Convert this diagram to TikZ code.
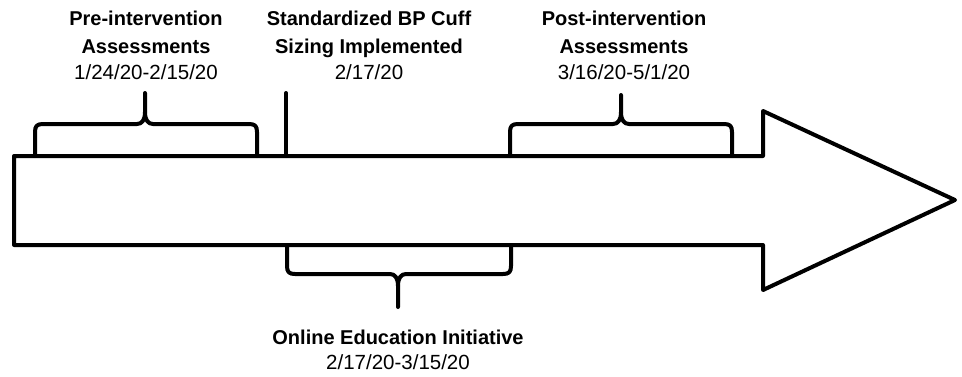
\documentclass[tikz,border=0pt]{standalone}
\usepackage{fontspec}
\setmainfont{Liberation Sans}
\begin{document}
\begin{tikzpicture}[x=1pt,y=-1pt,
  shape line/.style={line width=4pt, line join=round, line cap=round},
  hd/.style={font=\fontsize{20}{26}\selectfont\bfseries, inner sep=0pt, anchor=base},
  dt/.style={font=\fontsize{20.5}{26}\selectfont, inner sep=0pt, anchor=base}]
\useasboundingbox (0,0) rectangle (962,376);
% main arrow
\draw[shape line] (14,156) -- (763,156) -- (763,111) -- (955,200) -- (763,290) -- (763,245) -- (14,245) -- cycle;
% pre-intervention bracket
\draw[shape line] (35,156) -- (35,132) .. controls (35,126) and (37,124) .. (43,124) -- (137,124)
  .. controls (142,124) and (145,120) .. (145,112) -- (145,93);
\draw[shape line] (257,156) -- (257,132) .. controls (257,126) and (255,124) .. (249,124) -- (153,124)
  .. controls (148,124) and (145,120) .. (145,112);
% standardized line
\draw[shape line] (286,93) -- (286,156);
% post-intervention bracket
\draw[shape line] (510,156) -- (510,132) .. controls (510,126) and (512,124) .. (518,124) -- (613,124)
  .. controls (618,124) and (621,120) .. (621,112) -- (621,95);
\draw[shape line] (732,156) -- (732,132) .. controls (732,126) and (730,124) .. (724,124) -- (629,124)
  .. controls (624,124) and (621,120) .. (621,112);
% online education bracket
\draw[shape line] (287,245) -- (287,266) .. controls (287,272) and (289,274) .. (295,274) -- (390,274)
  .. controls (395,274) and (398,278) .. (398,286) -- (398,307);
\draw[shape line] (511,245) -- (511,266) .. controls (511,272) and (509,274) .. (503,274) -- (406,274)
  .. controls (401,274) and (398,278) .. (398,286);
% texts
\node[hd] (pre1) at (146,25) {Pre-intervention};
\node[hd] (pre2) at (146,53) {Assessments};
\node[dt] (pre3) at (146,79) {1/24/20-2/15/20};
\node[hd] (std1) at (369,25) {Standardized BP Cuff};
\node[hd] (std2) at (369,53) {Sizing Implemented};
\node[dt] (std3) at (369,79) {2/17/20};
\node[hd] (post1) at (624,25) {Post-intervention};
\node[hd] (post2) at (624,53) {Assessments};
\node[dt] (post3) at (624,79) {3/16/20-5/1/20};
\node[hd] (onl1) at (398,344) {Online Education Initiative};
\node[dt] (onl2) at (398,369) {2/17/20-3/15/20};
\end{tikzpicture}
\end{document}
